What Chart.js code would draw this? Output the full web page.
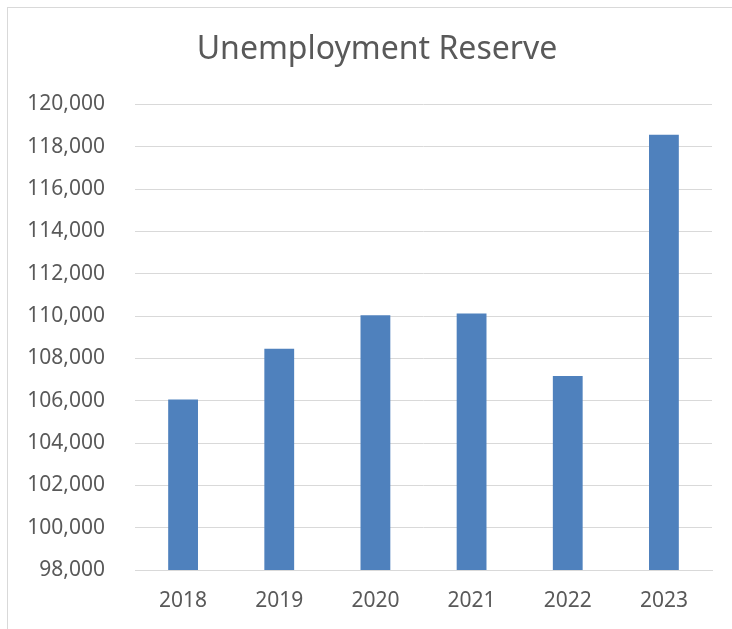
<!DOCTYPE html>
<html>
<head>
<meta charset="utf-8">
<script src="https://cdn.jsdelivr.net/npm/chart.js@4.4.0/dist/chart.umd.min.js"></script>
<style>
  html, body { margin: 0; padding: 0; background: #ffffff; overflow: hidden; }
  #frame {
    position: absolute; left: 7px; top: 7px; width: 725px; height: 622px;
    border-left: 1px solid #d9d9d9; border-top: 1px solid #d9d9d9;
    box-sizing: border-box;
  }
  #wrap { position: absolute; left: 0; top: 0; width: 732px; height: 629px; overflow: hidden; }
</style>
</head>
<body>
<div id="frame"></div>
<div id="wrap"><canvas id="chart" width="754" height="629"></canvas></div>
<script>
// Unemployment reserve balances by year
const years = ['2018', '2019', '2020', '2021', '2022', '2023'];
const reserve = [106060, 108460, 110040, 110120, 107170, 118570];

// Value axis range
const yMin = 98000;
const yMax = 120000;
const yStep = 2000;

const textColor = '#595959';
const gridColor = '#d9d9d9';
const fontFamily = '"Noto Sans", "Open Sans", sans-serif';

new Chart(document.getElementById('chart'), {
  type: 'bar',
  data: {
    labels: years,
    datasets: [{
      label: 'Unemployment Reserve',
      data: reserve,
      backgroundColor: '#4f81bd',
      borderWidth: 0,
      categoryPercentage: 1.0,
      barPercentage: 0.31
    }]
  },
  options: {
    responsive: false,
    animation: false,
    devicePixelRatio: 1,
    layout: { padding: { left: 0, right: 0, top: 0, bottom: 0 } },
    plugins: {
      legend: { display: false },
      tooltip: { enabled: false },
      title: {
        display: true,
        text: 'Unemployment Reserve',
        color: textColor,
        font: { family: fontFamily, size: 32, weight: 'normal' },
        padding: { top: 31, bottom: 35 }
      }
    },
    scales: {
      x: {
        grid: { display: false, drawTicks: false },
        border: { display: true, color: gridColor, width: 1 },
        ticks: { color: textColor, font: { family: fontFamily, size: 21 }, padding: 18 },
        afterFit: (scale) => { scale.height = 59; }
      },
      y: {
        min: yMin,
        max: yMax,
        ticks: {
          stepSize: yStep,
          color: textColor,
          font: { family: fontFamily, size: 21 },
          padding: 30,
          callback: (v) => v.toLocaleString('en-US')
        },
        grid: { color: gridColor, lineWidth: 1, drawTicks: false },
        border: { display: false },
        afterFit: (scale) => { scale.width = 135; }
      },
      // empty right-hand margin axis
      yRight: {
        position: 'right',
        min: yMin,
        max: yMax,
        ticks: { display: false },
        grid: { display: false, drawTicks: false },
        border: { display: false },
        afterFit: (scale) => { scale.width = 42; }
      }
    }
  }
});
</script>
</body>
</html>
